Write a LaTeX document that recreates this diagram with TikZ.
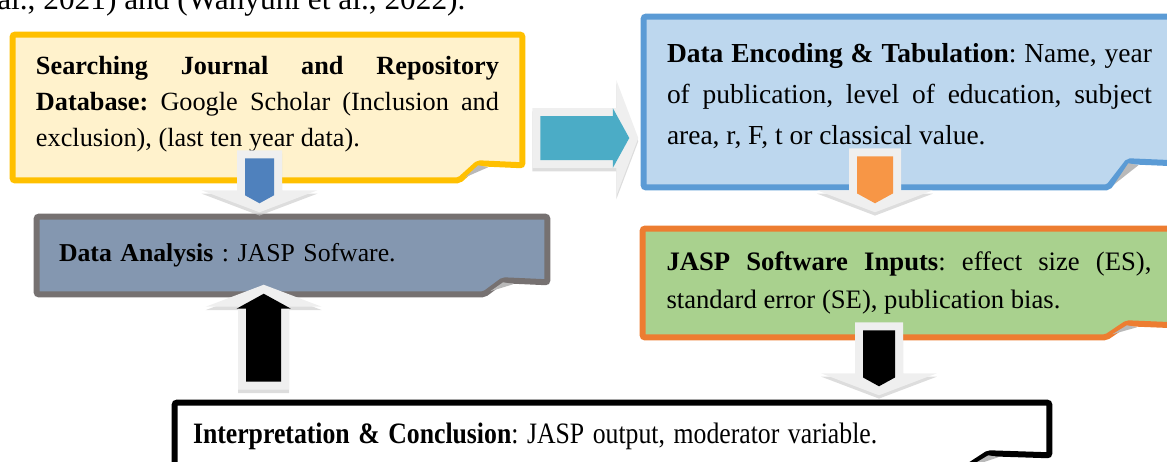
\documentclass[tikz,border=0pt]{standalone}
\usepackage{fontspec}
\setmainfont{Liberation Serif}
\usetikzlibrary{calc,backgrounds}

\definecolor{searchfill}{HTML}{FFF2CC}
\definecolor{searchline}{HTML}{FFC000}
\definecolor{encodefill}{HTML}{BDD7EE}
\definecolor{encodeline}{HTML}{5B9BD5}
\definecolor{analysisfill}{HTML}{8497B0}
\definecolor{analysisline}{HTML}{767171}
\definecolor{inputsfill}{HTML}{A9D18E}
\definecolor{inputsline}{HTML}{ED7D31}
\definecolor{arrowblue}{HTML}{4F81BD}
\definecolor{arrowteal}{HTML}{4BACC6}
\definecolor{arroworange}{HTML}{F79646}
\definecolor{arrowback}{HTML}{EFEFEF}

\hyphenpenalty=10000
\frenchspacing

% extra space under the text of a box, lifts the text up
\newcommand*{\liftby}[1]{\par\vspace{#1}\hrule height 0pt width 0pt}

% box with a folded bottom right corner, drawn behind a node
\newcommand*{\foldframe}[5]{% node, line colour, fill colour, fold width, fold depth
  \begin{scope}[on background layer]
    \draw[line width=4.5pt,draw=#2,fill=#3,rounded corners=1.5pt]
      (#1.north west) -- (#1.north east) -- ($(#1.south east)+(0,-#5)$)
      -- ($(#1.south east)+(-0.7*#4,-#5-2)$) -- ($(#1.south east)+(-#4,0)$)
      -- (#1.south west) -- cycle;
    \fill[gray!55] ($(#1.south east)+(-#4+6,-3)$) -- ($(#1.south east)+(-0.7*#4,-#5)$)
      -- ($(#1.south east)+(-0.7*#4+10,-#5+2)$) -- cycle;
  \end{scope}}

% block arrow: light outline arrow with a coloured one inside
\newcommand*{\flowarrow}[6]{% tail, direction, length, colour, shaft half width, head half width
  \begin{scope}[shift={(#1)},yshift=-2.5pt,rotate=#2]
    \fill[gray!45,opacity=0.6] (0,{-#5-8}) -- ({#3-22},{-#5-8}) -- ({#3-22},-58) -- (#3,0)
      -- ({#3-22},58) -- ({#3-22},{#5+8}) -- (0,{#5+8}) -- cycle;
  \end{scope}
  \begin{scope}[shift={(#1)},rotate=#2]
    \fill[arrowback] (0,{-#5-8}) -- ({#3-22},{-#5-8}) -- ({#3-22},-58) -- (#3,0)
      -- ({#3-22},58) -- ({#3-22},{#5+8}) -- (0,{#5+8}) -- cycle;
    \fill[#4] (8,-#5) -- ({#3-9-0.55*#6},-#5) -- ({#3-9-0.55*#6},-#6) -- ({#3-9},0)
      -- ({#3-9-0.55*#6},#6) -- ({#3-9-0.55*#6},#5) -- (8,#5) -- cycle;
  \end{scope}}

\begin{document}
\begin{tikzpicture}
[
	x=0.75pt,y=-0.75pt,
	notebox/.style={inner sep=0pt,align=justify,
		font=\fontsize{19.7}{27}\selectfont},
]

	\clip (0,0) rectangle (1167,461);

	% running text above the chart
	\node[anchor=base west,inner sep=0pt,font=\fontsize{23.5}{28}\selectfont] (cite) at (-3,9)
		{al., 2021) and (Wahyuni et al., 2022).};

	% boxes
	\node[notebox,minimum width=381.75pt,minimum height=108.75pt,text width=347.25pt]
		(search) at (267.5,107.5)
		{\textbf{Searching Journal and Repository Database:} Google Scholar (Inclusion and exclusion), (last ten year data).\liftby{5pt}};
	\node[notebox,minimum width=398.25pt,minimum height=127.5pt,text width=363.75pt,
		font=\fontsize{20.6}{30.75}\selectfont]
		(encode) at (909.5,102)
		{\textbf{Data Encoding \& Tabulation}: Name, year of publication, level of education, subject area, r, F, t or classical value.\liftby{9pt}};
	\node[notebox,align=left,minimum width=382.5pt,minimum height=57.75pt,text width=349.5pt,
		font=\fontsize{19.3}{27}\selectfont]
		(analysis) at (292,255.5)
		{\textbf{Data Analysis} : JASP Sofware.};
	\node[notebox,minimum width=399pt,minimum height=81pt,text width=363.75pt,
		font=\fontsize{20}{28.5}\selectfont]
		(inputs) at (909,283)
		{\textbf{JASP Software Inputs}: effect size (ES), standard error (SE), publication bias.};
	\node[notebox,align=left,minimum width=655.5pt,minimum height=50.25pt,text width=628.5pt,
		font=\fontsize{19.3}{27}\selectfont]
		(result) at (612,436.5)
		{\scalebox{1}[1.15]{\textbf{Interpretation \& Conclusion}: JASP output, moderator variable.}};

	\foldframe{search}{searchline}{searchfill}{63}{15}
	\foldframe{encode}{encodeline}{encodefill}{67}{24}
	\foldframe{analysis}{analysisline}{analysisfill}{63}{12}
	\foldframe{inputs}{inputsline}{inputsfill}{69}{12}
	\foldframe{result}{black}{white}{87}{15}

	% arrows between the boxes
	\flowarrow{$(search.south)+(-8,-30)$}{-90}{62}{arrowblue}{14.5}{14.5}
	\flowarrow{$(search.east)+(10,30.5)$}{0}{106}{arrowteal}{22}{30}
	\flowarrow{$(result.north west)+(89,-13)$}{90}{105}{black}{17.5}{27}
	\flowarrow{$(encode.south)+(-34.5,-39)$}{-90}{64}{arroworange}{18}{18}
	\flowarrow{$(inputs.south)+(-30,-15)$}{-90}{73}{black}{16}{16}

\end{tikzpicture}
\end{document}
